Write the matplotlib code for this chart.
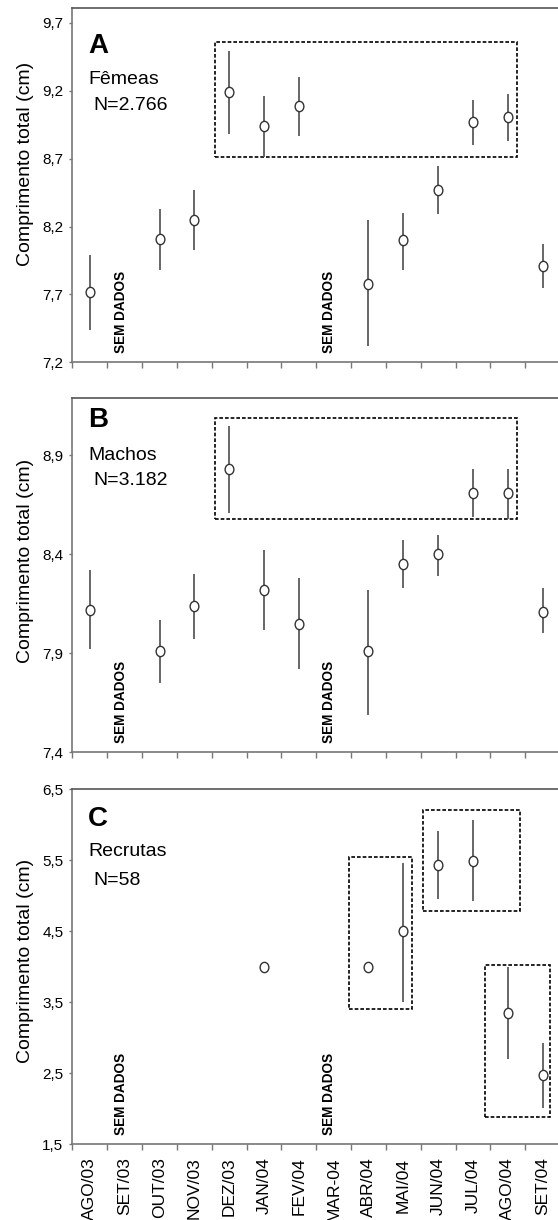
import numpy as np
import matplotlib
matplotlib.use('Agg')
import matplotlib.pyplot as plt
from matplotlib import font_manager
from matplotlib.path import Path
from matplotlib.transforms import Affine2D
from matplotlib.patches import Rectangle

# meses de coleta
meses = ['AGO/03', 'SET/03', 'OUT/03', 'NOV/03', 'DEZ/03', 'JAN/04', 'FEV/04',
         'MAR-04', 'ABR/04', 'MAI/04', 'JUN/04', 'JUL/04', 'AGO/04', 'SET/04']
nan = np.nan

# A - femeas (media, limite inferior, limite superior)
femeas_media = [7.72, nan, 8.11, 8.25, 9.19, 8.94, 9.09, nan, 7.78, 8.10, 8.47, 8.97, 9.01, 7.91]
femeas_inf = [7.44, nan, 7.88, 8.03, 8.88, 8.71, 8.87, nan, 7.32, 7.88, 8.29, 8.80, 8.83, 7.75]
femeas_sup = [7.99, nan, 8.33, 8.47, 9.49, 9.16, 9.30, nan, 8.25, 8.30, 8.65, 9.13, 9.18, 8.07]

# B - machos
machos_media = [8.12, nan, 7.91, 8.14, 8.83, 8.22, 8.05, nan, 7.91, 8.35, 8.40, 8.71, 8.71, 8.11]
machos_inf = [7.92, nan, 7.75, 7.97, 8.61, 8.02, 7.82, nan, 7.59, 8.23, 8.29, 8.59, 8.58, 8.00]
machos_sup = [8.32, nan, 8.07, 8.30, 9.05, 8.42, 8.28, nan, 8.22, 8.47, 8.50, 8.83, 8.83, 8.23]

# C - recrutas
recrutas_media = [nan, nan, nan, nan, nan, 4.00, nan, nan, 4.00, 4.50, 5.43, 5.49, 3.35, 2.48]
recrutas_inf = [nan, nan, nan, nan, nan, 4.00, nan, nan, 4.00, 3.50, 4.96, 4.93, 2.70, 2.01]
recrutas_sup = [nan, nan, nan, nan, nan, 4.00, nan, nan, 4.00, 5.46, 5.91, 6.06, 4.00, 2.93]

# caixas tracejadas (x0, x1, y0, y1)
caixas_a = [(3.58, 12.27, 8.71, 9.56)]
caixas_b = [(3.58, 12.27, 8.58, 9.09)]
caixas_c = [(7.43, 9.24, 3.41, 5.54), (9.56, 12.36, 4.78, 6.21), (11.36, 13.2, 1.89, 4.02)]

sem_dados = [1, 7]

nomes = {f.name for f in font_manager.fontManager.ttflist}
NARROW = 'Liberation Sans Narrow' if 'Liberation Sans Narrow' in nomes else 'Liberation Sans'
plt.rcParams['font.family'] = ['Liberation Sans', 'DejaVu Sans']

# marcador levemente eliptico
circ = Path.unit_circle()
elipse = circ.transformed(Affine2D().scale(0.85, 1.0))

fig = plt.figure(figsize=(5.58, 12.2), dpi=100)
left, width = 0.1299, 0.8737

paineis = [
    dict(rect=[left, 0.7030, width, 0.2904], media=femeas_media, inf=femeas_inf, sup=femeas_sup,
         ylim=(7.2, 9.81), yt=[7.2, 7.7, 8.2, 8.7, 9.2, 9.7], caixas=caixas_a,
         letra='A', nome='Fêmeas', n='N=2.766', ty=(0.893, 0.799, 0.726), ylab=0.56),
    dict(rect=[left, 0.3834, width, 0.2904], media=machos_media, inf=machos_inf, sup=machos_sup,
         ylim=(7.4, 9.19), yt=[7.4, 7.9, 8.4, 8.9], caixas=caixas_b,
         letra='B', nome='Machos', n='N=3.182', ty=(0.937, 0.839, 0.766), ylab=0.54),
    dict(rect=[left, 0.0620, width, 0.2912], media=recrutas_media, inf=recrutas_inf, sup=recrutas_sup,
         ylim=(1.5, 6.5), yt=[1.5, 2.5, 3.5, 4.5, 5.5, 6.5], caixas=caixas_c,
         letra='C', nome='Recrutas', n='N=58', ty=(0.915, 0.823, 0.744), ylab=0.515),
]

x = np.arange(len(meses))
cinza = '#777777'

for i, p in enumerate(paineis):
    ax = fig.add_axes(p['rect'])
    media = np.array(p['media'])
    inf = np.array(p['inf'])
    sup = np.array(p['sup'])
    ok = ~np.isnan(media)
    # barras de erro
    ax.vlines(x[ok], inf[ok], sup[ok], color='#5a5a5a', lw=1.3, zorder=2)
    ax.plot(x[ok], media[ok], ls='none', marker=elipse, ms=7.4, mfc='white',
            mec='#333333', mew=1.0, zorder=3)

    for (x0, x1, y0, y1) in p['caixas']:
        ax.add_patch(Rectangle((x0, y0), x1 - x0, y1 - y0, fill=False, ec='black',
                               lw=1.2, ls=(0, (2.2, 1.2)), zorder=1))

    for s in sem_dados:
        ax.text(s - 0.12, 0.025, 'SEM DADOS', rotation=90, ha='center', va='bottom',
                fontsize=9.8, fontweight='bold', transform=ax.get_xaxis_transform())

    ax.text(0.032, p['ty'][0], p['letra'], transform=ax.transAxes, fontsize=20,
            fontweight='bold', va='center', ha='left')
    ax.text(0.032, p['ty'][1], p['nome'], transform=ax.transAxes, fontsize=14,
            family=NARROW, va='center', ha='left')
    ax.text(0.042, p['ty'][2], p['n'], transform=ax.transAxes, fontsize=14,
            family=NARROW, va='center', ha='left')

    ax.set_xlim(-0.5, 13.5)
    ax.set_ylim(*p['ylim'])
    ax.set_yticks(p['yt'])
    ax.set_yticklabels([f'{v:.1f}'.replace('.', ',') for v in p['yt']], fontsize=11)
    ax.set_xticks(np.arange(-0.5, 14, 1))
    ax.set_xticklabels([])
    ax.set_xticks(x, minor=True)
    if i == 2:
        ax.set_xticklabels(meses, minor=True, rotation=90, fontsize=12.5, va='top')
    ax.tick_params(axis='x', which='major', length=4, width=1, color=cinza, direction='out')
    ax.tick_params(axis='x', which='minor', length=0, pad=9.5)
    ax.tick_params(axis='y', length=2.5, width=1, color=cinza, pad=4)

    ax.set_ylabel('Comprimento total (cm)', fontsize=14)
    ax.yaxis.set_label_coords(-0.097, p['ylab'])
    ax.yaxis.label.set_va('center')

    for lado in ['left', 'bottom', 'top']:
        ax.spines[lado].set_color(cinza)
        ax.spines[lado].set_linewidth(1.2)
    ax.spines['top'].set_color('#555555')
    ax.spines['right'].set_visible(False)

fig.savefig('out.png', dpi=100)
